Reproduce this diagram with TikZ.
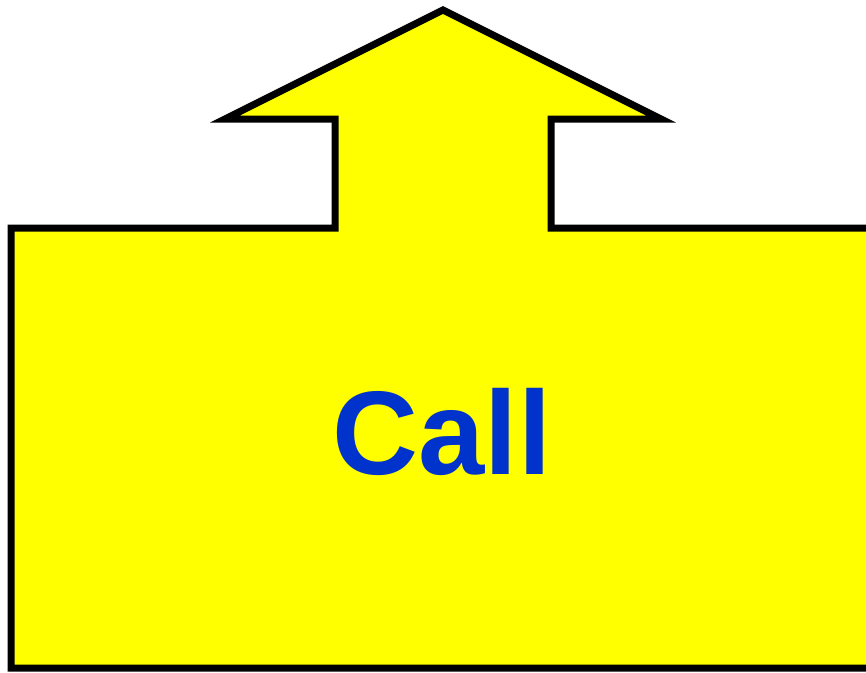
\documentclass[tikz,border=0pt]{standalone}
\usepackage{fontspec}
\setmainfont{Liberation Sans}
\definecolor{callyellow}{RGB}{255,255,0}
\definecolor{callblue}{RGB}{0,51,204}
\begin{document}
\begin{tikzpicture}[
    x=1pt, y=-1pt,
    callshape/.style={draw=black, fill=callyellow, line width=7pt, miter limit=10},
    calltext/.style={text=callblue, font=\fontsize{119}{119}\selectfont\bfseries, inner sep=0pt}
]
\clip (0,0) rectangle (866,672);
% box with the arrow on top
\draw[callshape] (11,228) -- (335,228) -- (335,119) -- (225,119) -- (443,10)
    -- (661,119) -- (551,119) -- (551,228) -- (900,228) -- (900,668)
    -- (11,668) -- cycle;
\node[calltext] (call) at (442,432) {Call};
\end{tikzpicture}
\end{document}
